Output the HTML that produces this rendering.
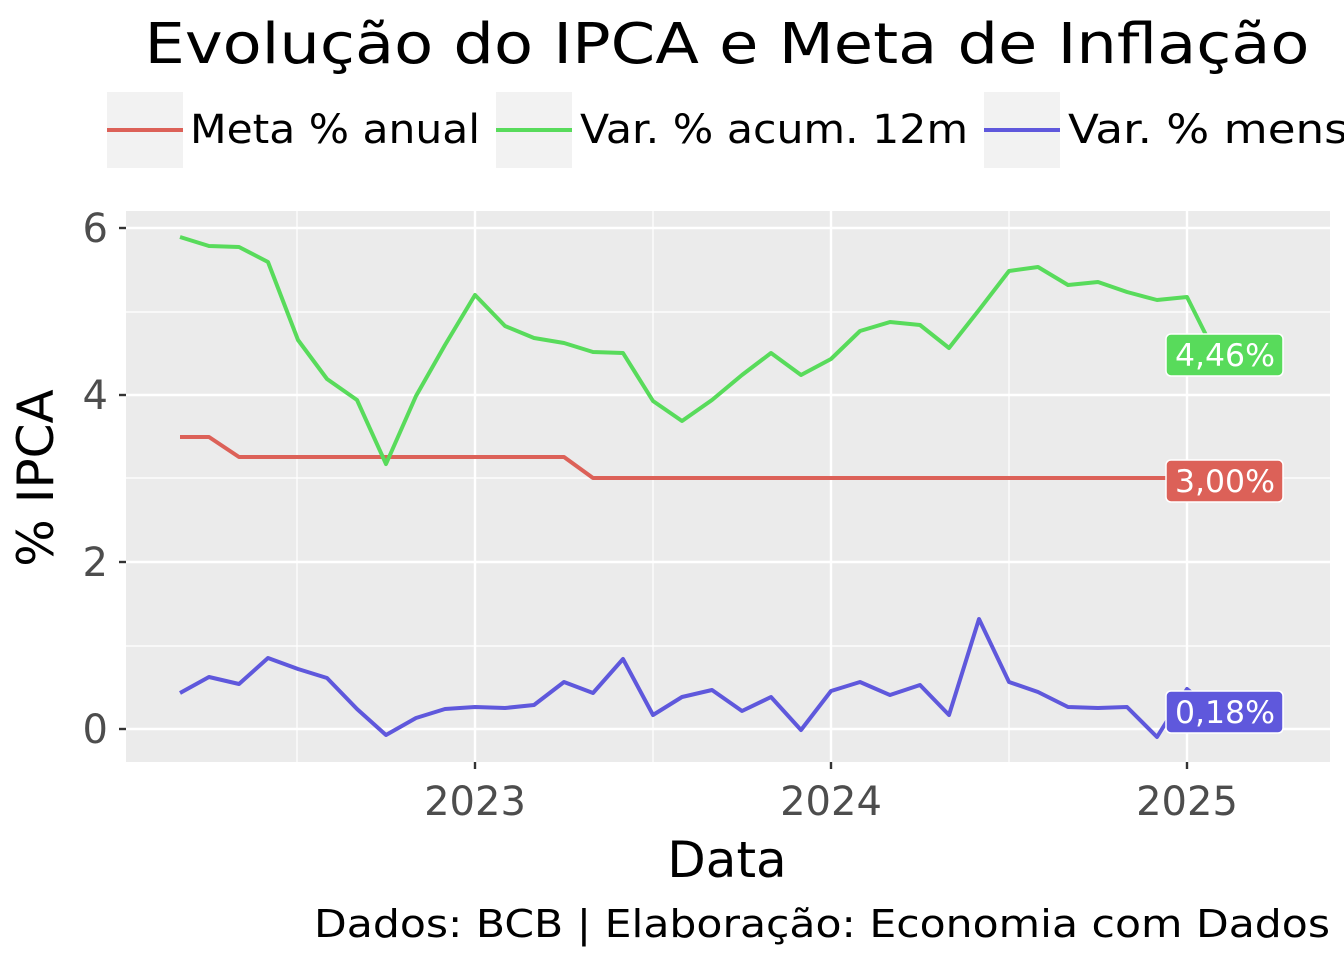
<!DOCTYPE html>
<html><head><meta charset="utf-8"><style>html,body{margin:0;padding:0;background:#fff}svg{display:block}</style></head>
<body>
<svg width="1344" height="960" xmlns="http://www.w3.org/2000/svg" font-family="DejaVu Sans, Liberation Sans, sans-serif">
<rect width="1344" height="960" fill="#fff"/>
<text x="727" y="63" font-size="56" text-anchor="middle" fill="#000" textLength="1165" lengthAdjust="spacingAndGlyphs">Evolução do IPCA e Meta de Inflação</text>
<!-- legend -->
<rect x="107" y="92" width="76" height="76" fill="#f2f2f2"/>
<line x1="107" y1="130" x2="183" y2="130" stroke="#dc6158" stroke-width="4"/>
<text x="190" y="143" font-size="40" textLength="290" lengthAdjust="spacingAndGlyphs">Meta % anual</text>
<rect x="496" y="92" width="76" height="76" fill="#f2f2f2"/>
<line x1="496" y1="130" x2="572" y2="130" stroke="#58db5b" stroke-width="4"/>
<text x="580" y="143" font-size="40" textLength="388" lengthAdjust="spacingAndGlyphs">Var. % acum. 12m</text>
<rect x="984" y="92" width="76" height="76" fill="#f2f2f2"/>
<line x1="984" y1="130" x2="1060" y2="130" stroke="#5f58dc" stroke-width="4"/>
<text x="1068" y="143" font-size="40" textLength="320" lengthAdjust="spacingAndGlyphs">Var. % mensal</text>
<!-- panel -->
<rect x="126" y="211" width="1204" height="551" fill="#ebebeb"/>
<g stroke="#fff" stroke-width="1.2">
<line x1="126" y1="646" x2="1330" y2="646"/><line x1="126" y1="478" x2="1330" y2="478"/><line x1="126" y1="312" x2="1330" y2="312"/>
<line x1="297" y1="211" x2="297" y2="762"/><line x1="653" y1="211" x2="653" y2="762"/><line x1="1009" y1="211" x2="1009" y2="762"/>
</g>
<g stroke="#fff" stroke-width="2.4">
<line x1="126" y1="729" x2="1330" y2="729"/><line x1="126" y1="562" x2="1330" y2="562"/><line x1="126" y1="395" x2="1330" y2="395"/><line x1="126" y1="228" x2="1330" y2="228"/>
<line x1="475" y1="211" x2="475" y2="762"/><line x1="831" y1="211" x2="831" y2="762"/><line x1="1187" y1="211" x2="1187" y2="762"/>
</g>
<g stroke="#333" stroke-width="2.4">
<line x1="119" y1="729" x2="126" y2="729"/><line x1="119" y1="562" x2="126" y2="562"/><line x1="119" y1="395" x2="126" y2="395"/><line x1="119" y1="228" x2="126" y2="228"/>
<line x1="475" y1="762" x2="475" y2="769"/><line x1="831" y1="762" x2="831" y2="769"/><line x1="1187" y1="762" x2="1187" y2="769"/>
</g>
<g font-size="40" fill="#4d4d4d" text-anchor="end">
<text x="108" y="743">0</text><text x="108" y="576">2</text><text x="108" y="409">4</text><text x="108" y="242">6</text>
</g>
<g font-size="40" fill="#4d4d4d" text-anchor="middle">
<text x="475" y="815">2023</text><text x="831" y="815">2024</text><text x="1187" y="815">2025</text>
</g>
<text x="727" y="877" font-size="50" text-anchor="middle">Data</text>
<text transform="translate(53,478) rotate(-90)" font-size="50" text-anchor="middle">% IPCA</text>
<text x="1330" y="937" font-size="38" text-anchor="end" textLength="1016" lengthAdjust="spacingAndGlyphs">Dados: BCB | Elaboração: Economia com Dados</text>
<!-- series -->
<g fill="none" stroke-width="4" stroke-linejoin="round">
<polyline stroke="#dc6158" points="180,437 209,437 239,457 564,457 593,478 1217,478"/>
<polyline stroke="#58db5b" points="180,237 209,246 239,247 268,262 298,340 327,379 357,400 386,464 416,396 445,345 475,295 505,326 534,338 564,343 593,352 623,353 653,401 682,421 712,400 742,375 771,353 801,375 831,359 860,331 890,322 920,325 949,348 979,310 1009,271 1038,267 1068,285 1098,282 1127,292 1157,300 1187,297 1217,357"/>
<polyline stroke="#5f58dc" points="180,693 209,677 239,684 268,658 298,669 327,678 357,709 386,735 416,718 445,709 475,707 505,708 534,705 564,682 593,693 623,659 653,715 682,697 712,690 742,711 771,697 801,730 831,691 860,682 890,695 920,685 949,715 979,619 1009,682 1038,692 1068,707 1098,708 1127,707 1157,737 1187,689 1217,714"/>
</g>
<!-- labels -->
<g stroke="#fff" stroke-width="1.5">
<rect x="1166" y="334" width="117" height="42" rx="5" fill="#58db5b"/>
<rect x="1166" y="460" width="117" height="42" rx="5" fill="#dc6158"/>
<rect x="1166" y="691" width="117" height="42" rx="5" fill="#5f58dc"/>
</g>
<g font-size="31" fill="#fff" text-anchor="middle">
<text x="1225" y="366" textLength="100" lengthAdjust="spacingAndGlyphs">4,46%</text><text x="1225" y="492" textLength="100" lengthAdjust="spacingAndGlyphs">3,00%</text><text x="1225" y="723" textLength="100" lengthAdjust="spacingAndGlyphs">0,18%</text>
</g>
</svg>
</body></html>
